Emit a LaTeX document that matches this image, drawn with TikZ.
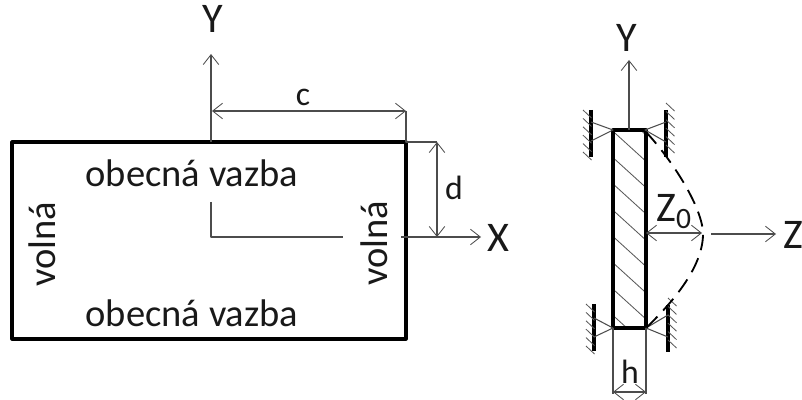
\documentclass[tikz,border=0pt]{standalone}
\usepackage{fontspec}
\setmainfont{Carlito}
\usetikzlibrary{arrows.meta}
\tikzset{
	thinline/.style={line width=.75pt,black!70},
	wall/.style={line width=2.2pt,black},
	hatchline/.style={line width=.6pt,black!65},
	biglabel/.style={font=\fontsize{30}{30}\selectfont,text=black!90,inner sep=0pt},
	midlabel/.style={font=\fontsize{27.4}{27}\selectfont,text=black!90,inner sep=0pt},
	smalllabel/.style={font=\fontsize{24}{24}\selectfont,text=black!90,inner sep=0pt}
}
\begin{document}
\begin{tikzpicture}[x=.025cm,y=-.025cm, line join=round, >={Straight Barb[length=7pt,width=11pt,line width=.6pt]}]
	\useasboundingbox (0,0) rectangle (802,400);
	% plate seen from above
	\coordinate (plateTL) at (12,142); \coordinate (plateBR) at (406,339);
	\coordinate (plateTR) at (406,142);
	\draw[line width=2.2pt] (plateTL) rectangle (plateBR);
	\node[midlabel] (vazbaTop) at (192,173) {obecná vazba};
	\node[midlabel] (vazbaBot) at (192,313) {obecná vazba};
	\node[midlabel,rotate=90] (volnaL) at (42,244) {volná};
	\node[midlabel,rotate=90] (volnaR) at (374,243) {volná};
	\node[biglabel] (axisYa) at (213,19) {Y};
	\node[biglabel] (axisX) at (498,238) {X};
	\coordinate (origin) at (211,237);
	\draw[thinline,->] (211,142)--(211,54);
	\draw[thinline] (211,202)--(origin)--(343,237);
	\draw[thinline,->] (401,237)--(481,237);
	% dimensions c and d
	\draw[thinline,<->] (212,111)--(406,111);
	\draw[thinline] (406,111)--(plateTR)--(437,142);
	\draw[thinline,<->] (437,142)--(437,237);
	\node[smalllabel] (dimC) at (303,97) {c};
	\node[smalllabel] (dimD) at (454,188) {d};
	% section of the plate
	\begin{scope}
		\clip (613,130) rectangle (646,328);
		\foreach \k in {0,...,8}
			\draw[hatchline] (613,105+26.3*\k)--(646,135+26.3*\k);
	\end{scope}
	\draw[line width=2.2pt] (613,130) rectangle (646,328);
	% supports
	\foreach \bx/\by/\ax/\ay/\la/\lb/\hx in {591/110/613/130/122/141/-8,666/110/645/130/122/142/0,594/304/613/328/318/337/-8,668/305/646/328/315/337/0}{
		\draw[wall] (\bx,\by)--(\bx,\by+47);
		\draw[thinline] (\bx,\la)--(\ax,\ay)--(\bx,\lb);
		\foreach \k in {0,...,5}
			\draw[hatchline] (\bx+\hx,\by-7-\hx*7/8+8.4*\k)--(\bx+\hx+8.5,\by+1-\hx*7/8+8.4*\k);
	}
	% buckled shape
	\draw[line width=1.3pt,dash pattern=on 11pt off 6pt] (646,132) .. controls (672,160) and (701,205) .. (703,232) .. controls (704,265) and (675,300) .. (646,328);
	% axes and amplitude
	\node[biglabel] (axisYb) at (627,38) {Y};
	\node[biglabel] (axisZ) at (793,235) {Z};
	\node[biglabel] (ampl) at (674,212) {Z\textsubscript{0}};
	\node[smalllabel] (dimH) at (630,372) {h};
	\draw[thinline,->] (629,130)--(629,60);
	\draw[thinline,<->] (646,233)--(702,233);
	\draw[thinline,->] (711,234)--(776,234);
	\draw[thinline] (613,328)--(613,394) (646,328)--(646,394);
	\draw[thinline,<->] (613,392)--(646,392);
\end{tikzpicture}
\end{document}
